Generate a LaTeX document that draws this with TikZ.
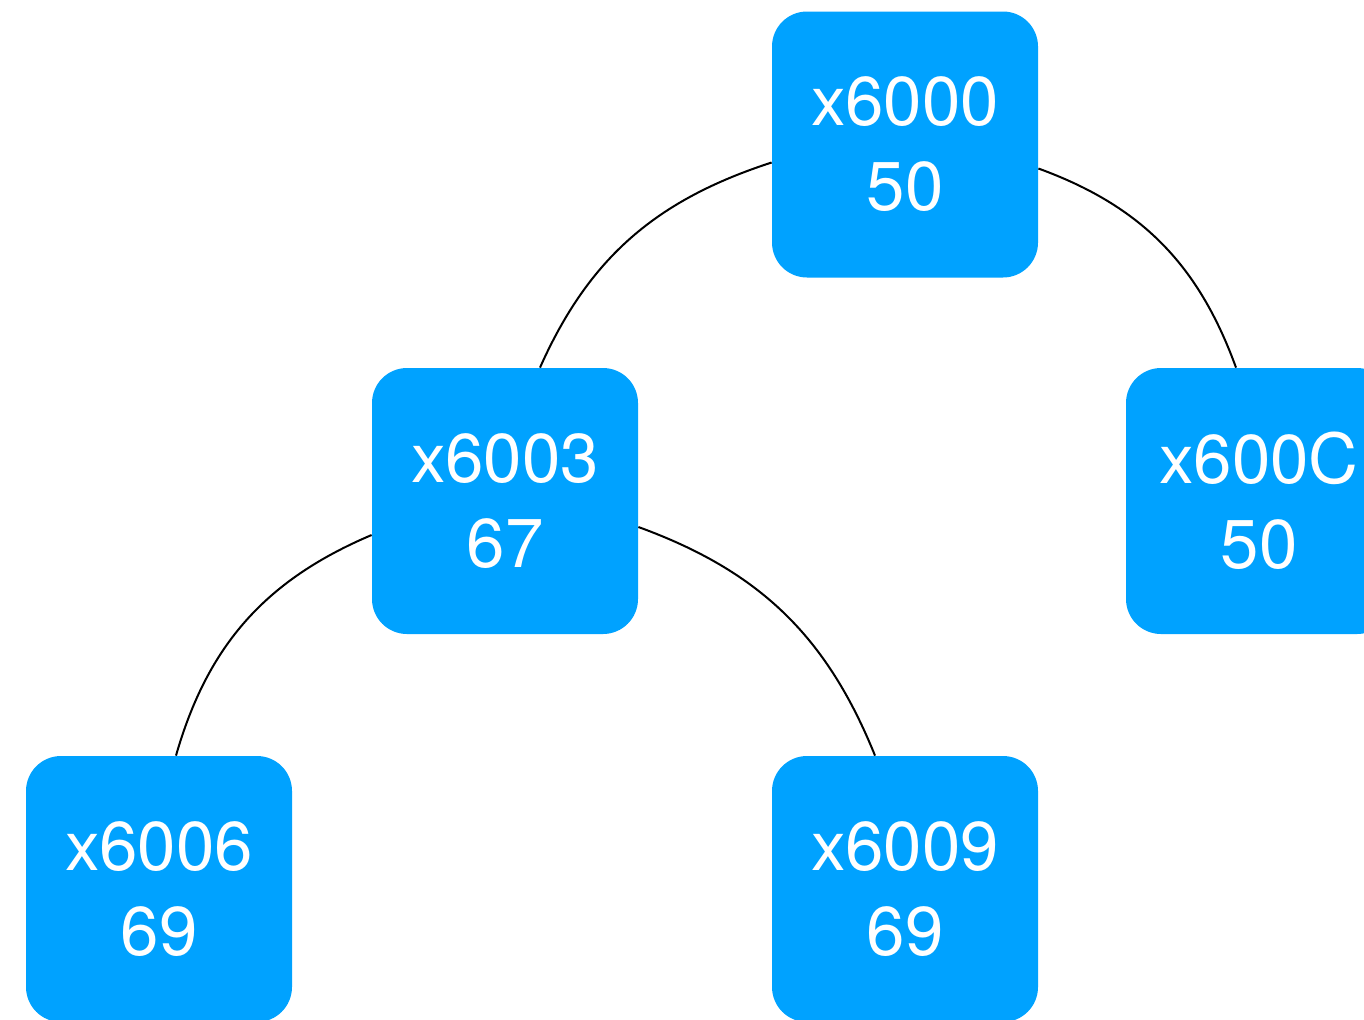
\documentclass[tikz,border=0pt]{standalone}
\usepackage{fontspec}
\setmainfont{TeX Gyre Heros}
\definecolor{boxblue}{HTML}{00A2FF}
\begin{document}
\begin{tikzpicture}[x=0.5pt,y=-0.5pt,
  memnode/.style={fill=boxblue, text=white, rounded corners=17.5pt,
    minimum width=133pt, minimum height=133pt, inner sep=0pt, align=center,
    font=\fontsize{34.5}{42.5}\selectfont},
  link/.style={draw=black, line width=1pt}]
\clip (0,0) rectangle (1364,1019);
\node[memnode] (n1) at (905,144.5) {x6000\\50};
\node[memnode] (n2) at (505,501) {x6003\\67};
\node[memnode] (n3) at (1259,501) {x600C\\50};
\node[memnode] (n4) at (159,889) {x6006\\69};
\node[memnode] (n5) at (905,889) {x6009\\69};
\draw[link] ([yshift=-9pt]n1.west) to[out=198, in=66] ([xshift=17.5pt]n2.north);
\draw[link] ([yshift=-12pt]n1.east) to[out=-20, in=110] ([xshift=-11.5pt]n3.north);
\draw[link] ([yshift=-17pt]n2.west) to[out=203, in=74] ([xshift=8.5pt]n4.north);
\draw[link] ([yshift=-13pt]n2.east) to[out=-20, in=112] ([xshift=-15pt]n5.north);
\end{tikzpicture}
\end{document}
